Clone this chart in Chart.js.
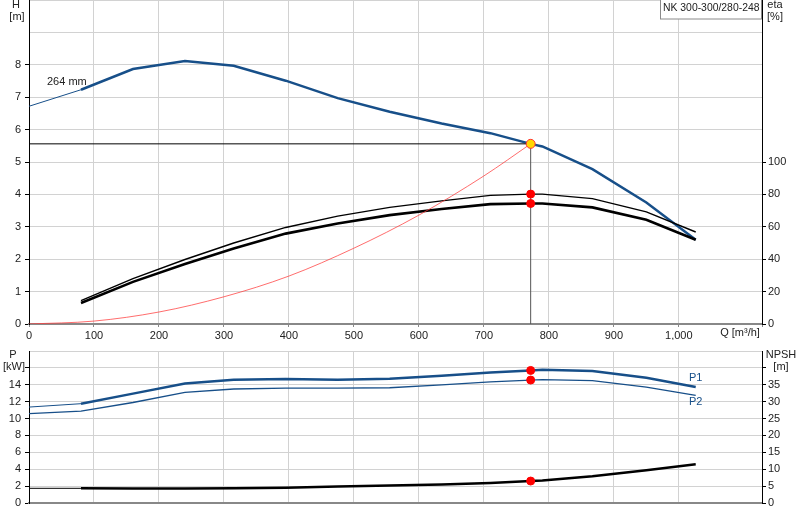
<!DOCTYPE html>
<html>
<head>
<meta charset="utf-8">
<script src="https://cdn.jsdelivr.net/npm/chart.js@4.4.1/dist/chart.umd.min.js"></script>
<style>
  body { margin: 0; background: #fff; }
  #wrap { position: relative; width: 800px; height: 520px; }
  #top { position: absolute; left: 0; top: 0; }
  #bottom { position: absolute; left: 0; top: 340px; }
</style>
</head>
<body>
<div id="wrap">
  <canvas id="top" width="800" height="340"></canvas>
  <canvas id="bottom" width="800" height="180"></canvas>
</div>
<script>
// flow points (m3/h)
const qHead = [0, 80, 160, 240, 315, 395, 475, 555, 635, 710, 772, 790, 867, 950, 1026];
const head = [6.72, 7.23, 7.87, 8.12, 7.97, 7.51, 6.97, 6.55, 6.19, 5.89, 5.56, 5.48, 4.78, 3.75, 2.6];

const qEta = [80, 160, 240, 315, 395, 475, 555, 635, 710, 772, 790, 867, 950, 1026];
const etaPump = [14.4, 28, 39.8, 50, 59.6, 66.6, 72, 76, 79.4, 80.2, 80.2, 77.4, 69.2, 56.8];
const etaTotal = [13, 26, 37, 46.6, 55.8, 62, 67.2, 71, 74, 74.4, 74.4, 72, 64.4, 52];

const qSystem = [0, 100, 200, 300, 400, 500, 600, 700, 772];
const hSystem = [0, 0.09, 0.37, 0.84, 1.48, 2.34, 3.36, 4.57, 5.56];

const p1 = [11.36, 11.76, 12.95, 14.15, 14.6, 14.67, 14.6, 14.72, 15.07, 15.45, 15.7, 15.78, 15.62, 14.84, 13.73];
const p2 = [10.58, 10.89, 11.9, 13.1, 13.5, 13.6, 13.6, 13.65, 14.0, 14.35, 14.56, 14.6, 14.48, 13.73, 12.75];
const npsh = [4.35, 4.35, 4.3, 4.3, 4.35, 4.55, 4.85, 5.15, 5.5, 5.95, 6.5, 6.65, 7.9, 9.7, 11.45];

const dutyQ = 772;
const dutyH = 5.56;
const dutyEtaPump = 80.2;
const dutyEtaTotal = 74.4;
const dutyP1 = 15.7;
const dutyP2 = 14.56;
const dutyNpsh = 6.5;

const pts = (xs, ys) => xs.map((x, i) => ({ x: x, y: ys[i] }));
const thinStart = c => c.p0.parsed.x < 80 ? 1 : 2.5;

const blue = "#174f89";
const gridColor = "#d2d2d2";
const font = { family: "Liberation Sans, Arial, sans-serif", size: 11 };
const fmt = v => v.toLocaleString("en-US");
const tickUpTo = lim => c => (c.tick && c.tick.value > lim) ? "rgba(0,0,0,0)" : "#000";
const noPad = s => { s.paddingTop = 0; s.paddingBottom = 0; };

function texts(items) {
  return {
    id: "texts",
    afterDraw(chart) {
      const ctx = chart.ctx;
      ctx.save();
      ctx.font = "11px Liberation Sans, Arial, sans-serif";
      ctx.textBaseline = "middle";
      items.forEach(t => {
        ctx.fillStyle = t.color || "#222";
        ctx.textAlign = t.align || "center";
        ctx.fillText(t.text, t.x, t.y);
      });
      ctx.restore();
    }
  };
}

const legendBox = {
  id: "legendBox",
  afterDraw(chart) {
    const ctx = chart.ctx;
    ctx.save();
    ctx.fillStyle = "#fff";
    ctx.fillRect(660, 0, 101, 19);
    ctx.strokeStyle = "#8a8a8a";
    ctx.lineWidth = 1;
    ctx.strokeRect(660.5, -1, 101, 20);
    ctx.fillStyle = "#222";
    ctx.font = "10.4px Liberation Sans, Arial, sans-serif";
    ctx.textBaseline = "middle";
    ctx.textAlign = "left";
    ctx.fillText("NK 300-300/280-248", 663, 8);
    ctx.restore();
  }
};

const commonOpts = {
  responsive: false,
  animation: false,
  plugins: { legend: { display: false }, tooltip: { enabled: false } },
  elements: { point: { radius: 0 }, line: { tension: 0 } }
};

// markers get order -1 so they are drawn above the curves
const marker = (data, axis, bg, border, r) => ({
  data: data, showLine: false, order: -1, yAxisID: axis,
  pointRadius: r || 4, pointBackgroundColor: bg, pointBorderColor: border, pointBorderWidth: 1
});

// top chart: head and efficiency
new Chart(document.getElementById("top").getContext("2d"), {
  type: "line",
  data: {
    datasets: [
      { data: pts([0, dutyQ], [dutyH, dutyH]), borderColor: "#000", borderWidth: 1, yAxisID: "y" },
      { data: pts([dutyQ, dutyQ], [0, dutyH]), borderColor: "#555", borderWidth: 1, yAxisID: "y" },
      { data: pts(qSystem, hSystem), borderColor: "rgba(255,60,60,0.75)", borderWidth: 1, cubicInterpolationMode: "monotone", yAxisID: "y" },
      { data: pts(qEta, etaPump), borderColor: "#000", borderWidth: 1.4, yAxisID: "y1" },
      { data: pts(qEta, etaTotal), borderColor: "#000", borderWidth: 2.6, yAxisID: "y1" },
      { data: pts(qHead, head), borderColor: blue, borderWidth: 2.5, segment: { borderWidth: thinStart }, yAxisID: "y" },
      marker(pts([dutyQ, dutyQ], [dutyEtaPump, dutyEtaTotal]), "y1", "#f00", "#f00"),
      marker(pts([dutyQ], [dutyH]), "y", "#ffd700", "#f33", 4.5)
    ]
  },
  options: {
    ...commonOpts,
    layout: { padding: 0, autoPadding: false },
    scales: {
      x: {
        type: "linear", min: 0, max: 1128,
        ticks: { stepSize: 100, font: font, color: "#222", padding: 2, maxRotation: 0, callback: v => v > 1000 ? "" : fmt(v) },
        grid: { color: gridColor, tickLength: 3, tickColor: "#888" },
        border: { color: "#888", width: 2 },
        afterFit: s => { s.height = 16; }
      },
      y: {
        position: "left", min: 0, max: 10,
        ticks: { stepSize: 1, font: font, color: "#222", padding: 4, callback: v => v > 8 ? "" : v },
        grid: { color: gridColor, tickLength: 4, tickColor: tickUpTo(8) },
        border: { color: "#000", width: 1 },
        afterFit: s => { s.width = 29; noPad(s); }
      },
      y1: {
        position: "right", min: 0, max: 200,
        ticks: { stepSize: 20, font: font, color: "#222", padding: 2, callback: v => v > 100 ? "" : v },
        grid: { drawOnChartArea: false, tickLength: 4, tickColor: tickUpTo(100) },
        border: { color: "#000", width: 1 },
        afterFit: s => { s.width = 38; noPad(s); }
      }
    }
  },
  plugins: [
    texts([
      { text: "H", x: 16, y: 5 },
      { text: "[m]", x: 17, y: 17 },
      { text: "eta", x: 775, y: 5 },
      { text: "[%]", x: 775, y: 17 },
      { text: "264 mm", x: 47, y: 82, align: "left" },
      { text: "Q [m\u00b3/h]", x: 740, y: 333 }
    ]),
    legendBox
  ]
});

// bottom chart: power and NPSH
new Chart(document.getElementById("bottom").getContext("2d"), {
  type: "line",
  data: {
    datasets: [
      { data: pts(qHead, p2), borderColor: blue, borderWidth: 1.3, yAxisID: "y" },
      { data: pts(qHead, p1), borderColor: blue, borderWidth: 2.5, segment: { borderWidth: thinStart }, yAxisID: "y" },
      { data: pts(qHead, npsh), borderColor: "#000", borderWidth: 2.5, segment: { borderWidth: thinStart }, yAxisID: "y1" },
      marker(pts([dutyQ, dutyQ], [dutyP1, dutyP2]), "y", "#f00", "#f00"),
      marker(pts([dutyQ], [dutyNpsh]), "y1", "#f00", "#f00")
    ]
  },
  options: {
    ...commonOpts,
    layout: { padding: { top: 11, left: 0, right: 0, bottom: 0 }, autoPadding: false },
    scales: {
      x: {
        type: "linear", min: 0, max: 1128,
        ticks: { stepSize: 100, display: false },
        grid: { color: gridColor, tickLength: 0 },
        border: { color: "#888", width: 2 },
        afterFit: s => { s.height = 17; }
      },
      y: {
        position: "left", min: 0, max: 18,
        ticks: { stepSize: 2, font: font, color: "#222", padding: 4, callback: v => v > 14 ? "" : v },
        grid: { color: gridColor, tickLength: 4, tickColor: tickUpTo(16) },
        border: { color: "#000", width: 1 },
        afterFit: s => { s.width = 29; noPad(s); }
      },
      y1: {
        position: "right", min: 0, max: 45,
        ticks: { stepSize: 5, font: font, color: "#222", padding: 2, callback: v => v > 35 ? "" : v },
        grid: { drawOnChartArea: false, tickLength: 4, tickColor: tickUpTo(40) },
        border: { color: "#000", width: 1 },
        afterFit: s => { s.width = 38; noPad(s); }
      }
    }
  },
  plugins: [
    texts([
      { text: "P", x: 13, y: 15 },
      { text: "[kW]", x: 14, y: 27 },
      { text: "NPSH", x: 781, y: 15 },
      { text: "[m]", x: 781, y: 27 },
      { text: "P1", x: 689, y: 38, align: "left", color: blue },
      { text: "P2", x: 689, y: 62, align: "left", color: blue }
    ])
  ]
});
</script>
</body>
</html>
